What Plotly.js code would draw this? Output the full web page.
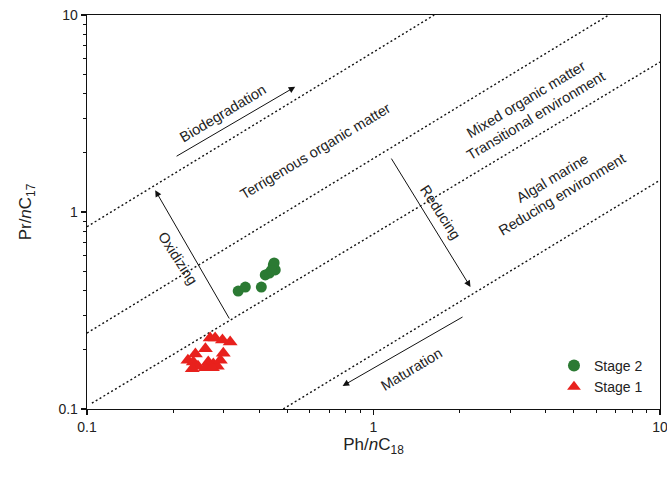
<!DOCTYPE html>
<html>
<head>
<meta charset="utf-8">
<script src="https://cdn.plot.ly/plotly-3.0.1.min.js"></script>
<style>
  html, body { margin: 0; padding: 0; background: #fff; }
  #chart { width: 667px; height: 478px; }
</style>
</head>
<body>
<div id="chart"></div>
<script>
// Stage 2 samples (green circles)
const stage2Ph = [0.337, 0.357, 0.406, 0.419, 0.433, 0.447, 0.454, 0.450, 0.440];
const stage2Pr = [0.397, 0.416, 0.416, 0.479, 0.490, 0.538, 0.508, 0.551, 0.505];

// Stage 1 samples (red triangles)
const stage1Ph = [0.269, 0.280, 0.297, 0.316, 0.259, 0.299, 0.239, 0.225, 0.235, 0.244, 0.265, 0.276, 0.285, 0.259, 0.274, 0.233, 0.292];
const stage1Pr = [0.229, 0.229, 0.224, 0.219, 0.202, 0.192, 0.190, 0.177, 0.173, 0.165, 0.173, 0.169, 0.165, 0.162, 0.162, 0.160, 0.177];

// Field boundaries (start and end points of each dotted line)
const boundX = [[0.1, 1.63], [0.1, 6.63], [0.104, 10], [0.484, 10]];
const boundY = [[0.842, 10], [0.243, 10], [0.107, 5.77], [0.1, 1.45]];

// Axis ticks
const majorTicks = [0.1, 1, 10];
const majorLabels = ['0.1', '1', '10'];
const minorTicks = [0.2, 0.3, 0.4, 0.5, 0.6, 0.7, 0.8, 0.9, 2, 3, 4, 5, 6, 7, 8, 9];

const FONT = 'Liberation Sans, Arial, sans-serif';
const INK = '#222';

const traces = [];
boundX.forEach((xs, i) => {
  traces.push({
    x: xs, y: boundY[i], type: 'scatter', mode: 'lines',
    line: {color: '#111', width: 1.4, dash: '2px,2.5px'},
    showlegend: false, hoverinfo: 'skip'
  });
});
traces.push({
  x: stage2Ph, y: stage2Pr, type: 'scatter', mode: 'markers', name: 'Stage 2',
  marker: {symbol: 'circle', size: 11, color: '#2b7a33'}
});
traces.push({
  x: stage1Ph, y: stage1Pr, type: 'scatter', mode: 'markers', name: 'Stage 1',
  marker: {symbol: 'triangle-up', size: 13, color: '#e8211d'}
});

// Labels and arrows, placed in log10 axis units
const L = Math.log10;
function label(text, x, y, angle) {
  return {text: text, x: L(x), y: L(y), xref: 'x', yref: 'y', showarrow: false,
          textangle: angle, font: {family: FONT, size: 14.5, color: INK}};
}
function arrow(x0, y0, x1, y1) {
  return {text: '', x: L(x1), y: L(y1), ax: L(x0), ay: L(y0),
          xref: 'x', yref: 'y', axref: 'x', ayref: 'y',
          showarrow: true, arrowhead: 2, arrowsize: 1.3, arrowwidth: 1,
          arrowcolor: '#111', standoff: 0, startstandoff: 0};
}

const annotations = [
  label('Biodegradation', 0.299, 3.18, -31),
  arrow(0.203, 1.90, 0.533, 4.32),
  label('Terrigenous organic matter', 0.627, 2.04, -31),
  label('Mixed organic matter<br>Transitional environment', 3.55, 3.38, -31),
  label('Algal marine<br>Reducing environment', 4.37, 1.34, -31),
  label('Reducing', 1.71, 1.0, 57),
  arrow(1.146, 1.90, 2.18, 0.416),
  label('Oxidizing', 0.207, 0.583, 57),
  arrow(0.316, 0.283, 0.173, 1.29),
  label('Maturation', 1.36, 0.160, -31),
  arrow(2.07, 0.296, 0.780, 0.131)
];

const axisCommon = {
  type: 'log', range: [-1, 1], showgrid: false, zeroline: false,
  showline: true, mirror: true, linecolor: '#111', linewidth: 1.3,
  ticks: 'outside', ticklen: 5, tickwidth: 1.2, tickcolor: '#111',
  tickmode: 'array', tickvals: majorTicks, ticktext: majorLabels,
  tickfont: {family: FONT, size: 14, color: INK},
  ticklabeloverflow: 'allow',
  minor: {tickmode: 'array', tickvals: minorTicks, ticks: 'outside', ticklen: 3,
          tickwidth: 1, tickcolor: '#111', showgrid: false},
  automargin: false
};

const layout = {
  width: 667, height: 478,
  margin: {l: 87, r: 7, t: 15, b: 69},
  paper_bgcolor: '#fff', plot_bgcolor: '#fff',
  font: {family: FONT, color: INK},
  xaxis: Object.assign({}, axisCommon, {
    title: {text: 'Ph/<i>n</i>C<sub>18</sub>', font: {family: FONT, size: 17, color: INK}, standoff: 0}
  }),
  yaxis: Object.assign({}, axisCommon, {
    title: {text: 'Pr/<i>n</i>C<sub>17</sub>', font: {family: FONT, size: 17, color: INK}, standoff: 22}
  }),
  legend: {
    x: 0.815, y: 0.15, xanchor: 'left', yanchor: 'top',
    bgcolor: 'rgba(0,0,0,0)', font: {family: FONT, size: 14, color: INK},
    itemsizing: 'constant', tracegroupgap: 0
  },
  annotations: annotations,
  showlegend: true
};

Plotly.newPlot('chart', traces, layout, {displayModeBar: false, staticPlot: true});
</script>
</body>
</html>
